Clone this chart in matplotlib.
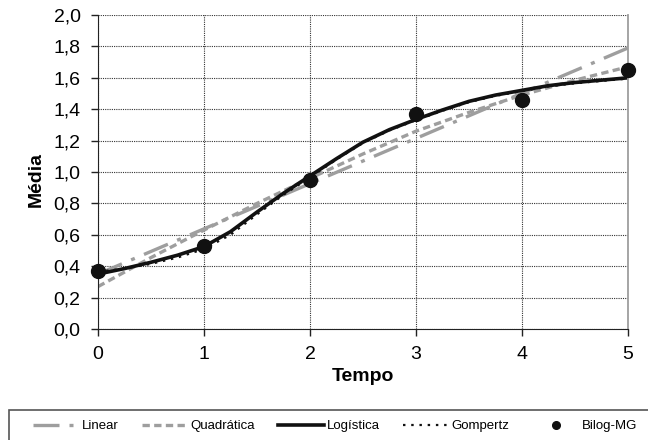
import matplotlib
matplotlib.use("Agg")
import matplotlib.pyplot as plt
from matplotlib.patches import Rectangle

plt.rcParams['font.family'] = ['Liberation Sans', 'DejaVu Sans']

# valores
tempo = [0, 1, 2, 3, 4, 5]
bilog = [0.37, 0.53, 0.95, 1.37, 1.46, 1.65]

t_lin = [0, 5]
linear = [0.35, 1.79]

t_quad = [0, 0.5, 1, 1.5, 2, 2.5, 3, 3.5, 4, 4.5, 5]
quadratica = [0.27, 0.455, 0.63, 0.80, 0.96, 1.115, 1.26, 1.38, 1.49, 1.585, 1.67]

t_curva = [0, 0.25, 0.5, 0.75, 1, 1.25, 1.5, 1.75, 2, 2.25, 2.5,
           2.75, 3, 3.25, 3.5, 3.75, 4, 4.25, 4.5, 4.75, 5]
logistica = [0.35, 0.385, 0.425, 0.47, 0.525, 0.62, 0.745, 0.865, 0.975, 1.085, 1.19,
             1.27, 1.335, 1.395, 1.45, 1.49, 1.52, 1.55, 1.57, 1.585, 1.60]
gompertz = [0.365, 0.385, 0.415, 0.455, 0.51, 0.60, 0.73, 0.855, 0.965, 1.08, 1.185,
            1.265, 1.33, 1.39, 1.445, 1.485, 1.515, 1.545, 1.565, 1.58, 1.595]

yticks = [0.0, 0.2, 0.4, 0.6, 0.8, 1.0, 1.2, 1.4, 1.6, 1.8, 2.0]
ylabels = ['0,0', '0,2', '0,4', '0,6', '0,8', '1,0', '1,2', '1,4', '1,6', '1,8', '2,0']

cinza = '#9e9e9e'

fig = plt.figure(figsize=(6.48, 4.40), dpi=100)
ax = fig.add_axes([98/648, 1 - 329/440, 530/648, 314/440])

ax.plot(t_lin, linear, color=cinza, lw=2.4, ls=(0, (7.8, 3.0, 1.2, 3.0)), label='Linear')
ax.plot(t_quad, quadratica, color=cinza, lw=2.4, ls=(0, (2.2, 1.3)), label='Quadrática')
ax.plot(t_curva, logistica, color='#111111', lw=2.6, label='Logística')
ax.plot(t_curva, gompertz, color='#111111', lw=1.6, ls=(0, (1.1, 2.6)), label='Gompertz')
ax.plot(tempo, bilog, 'o', color='#111111', ms=10, clip_on=False, zorder=5, label='Bilog-MG')

ax.set_xlim(0, 5)
ax.set_ylim(0, 2)
ax.set_xticks(tempo)
ax.set_yticks(yticks)
ax.set_yticklabels(ylabels)
ax.tick_params(axis='both', labelsize=14, length=5, width=1, direction='out', color='#222222')
ax.tick_params(axis='y', pad=7.5)
ax.tick_params(axis='x', pad=7.5)

ax.grid(True, color='#333333', lw=0.8, ls=(0, (1, 1)))
ax.set_axisbelow(True)
ax.spines['top'].set_visible(False)
ax.spines['right'].set_color(cinza)
ax.spines['right'].set_linewidth(1.3)
ax.spines['left'].set_color('#222222')
ax.spines['bottom'].set_color('#222222')

ax.set_xlabel('Tempo', fontsize=14, fontweight='bold')
ax.xaxis.set_label_coords(0.5, -0.125)
ax.xaxis.label.set_va('top')
ax.set_ylabel('Média', fontsize=14, fontweight='bold')
ax.yaxis.set_label_coords(-0.1, 0.475)

# caixa da legenda (cortada na borda direita como no original)
fig.patches.append(Rectangle((9/648, -0.1), 1.0, 1 - 410/440 + 0.1, transform=fig.transFigure,
                             fill=False, edgecolor='#555555', lw=1.2))
fig.legend(loc='center left', bbox_to_anchor=(33/648, 1 - 426/440), ncol=5, frameon=False,
           fontsize=9.5, handlelength=3.5, handletextpad=0.2, columnspacing=1.75,
           borderpad=0, borderaxespad=0, markerscale=0.55)

fig.savefig('out.png', dpi=100)
